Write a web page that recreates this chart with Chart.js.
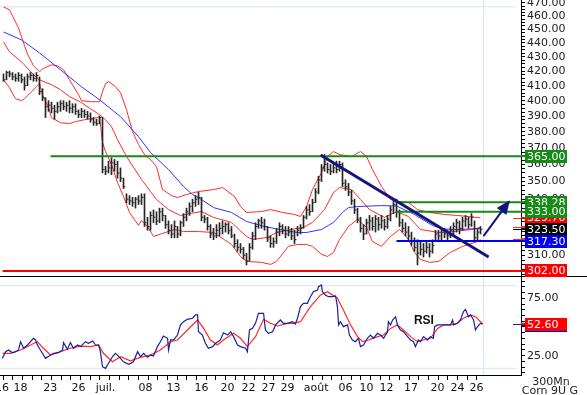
<!DOCTYPE html>
<html>
<head>
<meta charset="utf-8">
<script src="https://cdn.jsdelivr.net/npm/chart.js@4.4.0/dist/chart.umd.min.js"></script>
<style>
  html, body { margin: 0; padding: 0; background: #fff; }
</style>
</head>
<body>
<canvas id="myChart" width="587" height="395"></canvas>
<script>
// 300 min bars, Corn 9U, one slot per bar
const highs = [
  418,420,420,419,418,419,418,416,418,419,
  418,419,416,408,402,400,399,397,399,400,
  400,399,400,398,398,394,395,394,393,392,
  389,388,390,389,359,362,364,363,362,358,
  352,343,342,341,341,342,343,343,330,333,
  334,333,335,335,331,328,326,328,325,328,
  332,335,338,340,342,344,341,331,330,326,
  324,326,327,328,327,327,325,321,318,316,
  314,311,316,322,327,329,330,329,325,320,
  319,324,327,326,325,325,324,323,325,326,
  331,336,337,340,346,353,360,366,361,360,
  361,362,362,361,351,349,345,340,335,330,
  326,329,331,330,331,330,331,329,331,336,
  339,340,334,329,327,325,322,319,318,317,
  316,317,316,318,323,323,324,324,323,325,
  327,329,328,330,331,330,332,328,324,325
];
const lows = [
  413,414,416,414,413,413,412,407,410,414,
  413,413,404,400,389,393,392,388,392,393,
  394,393,392,392,391,389,389,389,388,386,
  384,384,385,355,354,355,354,356,352,350,
  346,338,337,336,335,337,337,325,323,323,
  327,326,327,328,324,321,319,319,319,320,
  325,328,331,333,336,337,328,327,323,319,
  318,319,320,321,322,321,319,314,312,311,
  308,305,307,313,318,324,324,323,317,314,
  314,316,320,321,319,320,318,316,320,321,
  324,329,331,333,338,343,350,356,355,354,
  355,355,356,347,345,342,337,332,327,322,
  318,321,323,323,322,323,324,323,324,328,
  332,330,325,322,320,318,315,312,305,310,
  309,311,309,311,317,318,318,319,318,319,
  320,322,321,323,325,324,325,318,318,321
];
const closes = [
  414,419,418,416,415,417,414,410,416,417,
  415,417,406,402,396,397,395,393,396,398,
  396,397,395,396,393,391,393,391,390,388,
  386,385,389,357,356,358,361,360,355,352,
  347,340,339,338,340,339,341,327,325,331,
  330,328,333,331,326,323,321,325,321,327,
  330,333,336,338,340,341,330,329,325,321,
  320,323,324,325,326,323,320,316,314,313,
  310,307,314,320,325,328,327,325,319,316,
  317,322,325,323,321,322,320,318,323,324,
  330,334,333,338,344,351,358,360,357,356,
  358,357,360,349,347,344,339,334,329,324,
  321,327,328,325,329,326,328,325,329,334,
  337,333,327,324,322,320,317,314,311,313,
  312,314,312,315,321,320,322,321,320,323,
  325,327,324,328,329,326,330,319,322,323.5
];

// indicators read at [slot, value]
const upperBand = [[0,467],[2,464.6],[3,460],[5,451],[7,438],[8,432],[10,423.7],[12,419.5],[13,421.5],[16,424.4],[18,423.7],[20,420.9],[22,414],[25,404],[26,400],[29,399.3],[32,399.3],[33,406],[34,411.4],[35,412.7],[37,410],[39,405.3],[41,394.1],[43,380.1],[45,372.1],[47,366],[49,362.9],[51,358.8],[53,345.4],[56,342],[58,340.9],[61,342.6],[65,344.3],[70,345.4],[73,346.6],[77,341.5],[79,335.9],[81,332.6],[86,333.1],[89,334.2],[93,332.6],[97,331.5],[99,330.4],[101,335.9],[103,345.4],[106,355.3],[108,364.8],[110,367.8],[112,366],[116,364.8],[119,367.8],[121,364.8],[123,357],[126,347.2],[129,339.8],[131,338.7],[135,338.1],[138,334.2],[142,332.6],[147,331.5],[151,331],[159,329.7]];
const middleBand = [[0,440.8],[2,433.6],[6,426.5],[10,417.5],[12,414],[16,410.7],[19,407.3],[22,402.7],[26,398.7],[29,394.7],[32,390.9],[34,387.6],[36,383.2],[38,375.1],[41,364.8],[46,351.2],[49,344.3],[51,339.8],[55,334.2],[59,330.9],[62,332],[66,333.1],[70,329.9],[76,327.2],[81,319.7],[83,318.1],[88,319.2],[91,321.8],[96,323.4],[100,324.5],[103,327.2],[107,334.2],[110,343.7],[112,346.6],[116,345.4],[119,339.8],[122,334.2],[127,329.9],[131,333.1],[135,330.4],[139,323.4],[145,321.8],[150,322.3],[156,323.4],[159,324.5]];
const lowerBand = [[0,414],[2,408.6],[4,401.3],[6,400],[7,401.3],[9,405.3],[11,409.3],[12,411.4],[13,404],[15,395.4],[16,388.9],[19,385.7],[22,385.1],[24,386.4],[27,387.6],[31,388.9],[32,389.6],[33,373.3],[34,367.8],[36,360],[38,349.5],[40,341.5],[42,332.6],[45,325.6],[46,328.2],[48,325],[50,319.7],[53,321.3],[57,323.4],[60,322.3],[65,322.3],[70,321.8],[76,315.5],[79,309.3],[81,306.8],[86,306.3],[89,305.3],[91,306.8],[95,314.5],[98,315.5],[101,315.5],[103,314.5],[106,310.4],[108,309.3],[110,311.4],[112,318.1],[115,325],[118,328.8],[121,324.5],[123,317],[126,314.5],[129,319.7],[132,323.4],[135,318.1],[137,311.4],[139,307.8],[142,306.3],[145,306.8],[149,311.4],[153,314.5],[158,317],[159,318.1]];
const blueMa = [[0,448],[6,442.2],[12,432.8],[19,420.9],[26,409.3],[32,400.6],[39,389.6],[45,376.9],[49,367.2],[55,357],[60,347.2],[63,342.6],[66,339.8],[70,335.3],[76,332.6],[81,327.7],[87,325],[92,323.4],[98,321.8],[101,321.8],[106,323.4],[110,327.2],[113,332.6],[115,335.3],[118,335.9],[126,336.4],[131,336.2],[137,331.5],[143,325.5],[147,323.6],[151,323.4],[159,323.9]];

const rsi = [[-0.4,22.6],[0.7,28.5],[1.7,30],[3,27.6],[4,28.5],[5,30],[5.7,37.2],[6.7,31.5],[8,34.3],[9,37.2],[10,40.2],[10.7,38.7],[11.3,34.3],[12.3,30],[14,22.7],[15.7,25.6],[16.7,27.1],[18.3,27.6],[19.7,30],[20,36.4],[21.3,30.6],[22.3,36.4],[23.3,31.5],[24.7,34.3],[25.7,32.9],[27.3,37.2],[28.3,35.8],[29.7,37.8],[30.7,34.3],[31.7,34.3],[32.3,28.5],[33,15.4],[34,14],[35,18.4],[36.3,24.1],[37.3,27.1],[38.3,24.7],[40,19.7],[41.7,17.5],[43.3,19.7],[44.7,28.5],[45.7,24.1],[46.7,27.1],[48,23.6],[49,25.6],[50,24.7],[51.3,32.9],[52.3,37.2],[53.3,42.2],[54.7,40.2],[55,30],[55.7,38.7],[56.7,38.7],[58,43],[59,51.8],[60,54.6],[61.3,56.7],[63,57.6],[64,60.5],[64.7,60.5],[65,45.9],[66.3,43],[67.3,35.8],[68.3,31.5],[69.7,32.9],[70.7,35.8],[72.3,38.7],[73.3,45],[74.7,43],[75.7,45.9],[76.7,41.6],[78,34.3],[79,32.9],[80.7,31.5],[81.3,28.5],[82,47.4],[83,48.8],[84,53.2],[85,61.9],[86.7,61.9],[87.3,47.4],[88.3,44.5],[89.7,45.9],[90.7,51.8],[92.3,56.1],[93.3,53.2],[94.7,53.2],[96.3,54.6],[97.3,52.6],[98,57.6],[99,67.7],[100,70.6],[101.3,70.6],[102.3,76.4],[103.3,80.7],[104.7,82.2],[105,85.1],[106,86.6],[106.3,80.7],[107.3,77.9],[108.3,76.4],[109.7,76.4],[110.7,77],[111.3,67.7],[111.7,51.8],[112.3,54.6],[113.3,50.3],[114.7,51.8],[115.3,43],[116.3,38.7],[117.3,37.2],[118.3,40.2],[119,32.9],[120,34.3],[121.3,40.2],[122.3,43],[123.3,40.2],[124.7,44.5],[125.7,43],[126.7,40.2],[128,45.9],[128.3,54.6],[129,51.8],[129.7,56.1],[130.7,59],[131.3,51.8],[132.3,47.4],[133.3,45.9],[134.7,41.6],[135.7,38.7],[136.7,37.2],[137.3,32.9],[138.3,38.7],[139,37.2],[140,41.6],[141.3,38.7],[142.3,41.6],[143.3,40.2],[143.7,50.3],[144.7,51.8],[146.7,51.8],[149,51.8],[149.7,56.1],[150,51.8],[151.3,53.2],[152.3,56.1],[153.3,63.3],[154,65.4],[155,59],[155.7,60.5],[156.7,56.1],[157.3,47.4],[158,50.3],[159,53.2],[159.7,52.6]];
const rsiMa = [[-0.3,27.1],[2.3,27.1],[5.7,30],[9,34.3],[11.3,37.2],[13.3,31.5],[15.7,25.6],[19,28.5],[22.3,31.5],[25.7,33.4],[29,32.9],[31.7,34.3],[33.3,27.1],[36.3,19.7],[39,24.1],[42.3,20.6],[45.7,23.6],[49,25.6],[52.3,30],[55.7,37.2],[58,38.7],[61.3,47.4],[64.7,56.1],[66.7,48.8],[69,38.7],[71.3,34.3],[73.3,38.7],[76.7,44.5],[79,40.2],[81.3,32.9],[84,41.6],[86.7,56.7],[89,53.2],[91.3,50.9],[94.7,53.2],[96.3,53.2],[99,54.6],[102.3,67.7],[105.7,77.9],[108,80.7],[111.3,75],[113.3,64.8],[115.7,51.8],[118,41.6],[119.7,37.2],[121.7,38.7],[124.7,41.6],[126.7,43],[129,48.8],[131.3,51.8],[133.3,47.4],[135.7,41.6],[138,37.2],[140,38.7],[142.3,40.2],[144.7,48.8],[146.7,51.8],[149,51.8],[151.3,53.2],[153.3,57.6],[155.7,60.5],[157.3,59],[159,54.6],[159.7,52.6]];

// date labels and the slot they sit on
const dateLabels = ['16','18','23','26','juil.','08','13','16','20','22','27','29','août','06','10','12','17','20','24','26'];
const dateAt = [-0.5,5.7,15.6,25,34,47.3,56.7,66,74.7,81.7,88.3,94.7,104.2,114,121,127.7,135.8,144.7,151.3,157.7];

// horizontal levels
const levelValues = [365, 338.28, 333, 317.3, 302];
const levelFrom = [15.7, 131, 131, 131, -0.3];
const levelColors = ['#168a16', '#168a16', '#168a16', '#0000f0', '#ff0000'];

const trendLine = [[105.7, 365.7], [161.7, 309]];
const arrowLine = [[160, 319.9], [168.4, 338.5]];
const rsiGuides = [86, 14];
const priceGuide = 467;
const nowAt = 159.7;

const xMin = -1.1667, xMax = 172.5;
const yMin = 299.5, yMax = 472.3;
const rMin = 8.2, rMax = 94.4;

const RED = '#ff2a2a', BLUE = '#3333ff', NAVY = '#14147e';
const font = { family: 'DejaVu Sans', size: 11 };
const last = a => { const v = a[a.length - 1]; return Array.isArray(v) ? v[1] : v; };

function curve(label, pts, color, width, axis, order) {
  return {
    type: 'line', label: label,
    data: pts.map(p => ({ x: p[0], y: p[1] })),
    borderColor: color, borderWidth: width, pointRadius: 0, pointHoverRadius: 0, fill: false,
    yAxisID: axis, order: order
  };
}

const datasets = [
  {
    type: 'bar', label: 'hl',
    data: highs.map((h, i) => ({ x: i, y: [lows[i], h] })),
    backgroundColor: '#262626', barThickness: 1, grouped: false,
    yAxisID: 'y', order: 5
  },
  {
    type: 'line', label: 'close',
    data: closes.map((c, i) => ({ x: i, y: c })),
    showLine: false, pointStyle: 'dash', pointRadius: 2, pointHoverRadius: 2,
    pointBorderColor: '#262626', pointBorderWidth: 1,
    yAxisID: 'y', order: 5
  },
  curve('upper', upperBand, RED, 1, 'y', 7),
  curve('middle', middleBand, RED, 1, 'y', 7),
  curve('lower', lowerBand, RED, 1, 'y', 7),
  curve('ma', blueMa, BLUE, 1, 'y', 6),
  curve('guide', [[xMin, priceGuide], [170.7, priceGuide]], '#d6e6ee', 1, 'y', 9),
  curve('trend', trendLine, NAVY, 3, 'y', 2),
  curve('arrow', arrowLine, NAVY, 2, 'y', 1),
  curve('rsi', rsi, '#1e1e9a', 1.2, 'yr', 3),
  curve('rsima', rsiMa, RED, 1.2, 'yr', 4)
];
levelValues.forEach((v, i) => {
  datasets.push(curve('lvl' + i, [[levelFrom[i], v], [xMax, v]], levelColors[i], 2, 'y', 4));
});
rsiGuides.forEach((v, i) => {
  datasets.push(curve('rg' + i, [[xMin, v], [170.7, v]], '#d6e6ee', 1, 'yr', 9));
});

const deco = {
  id: 'deco',
  beforeDatasetsDraw(chart) {
    const { ctx, chartArea: a, scales: { x } } = chart;
    const px = Math.round(x.getPixelForValue(nowAt)) + 0.5;
    ctx.save();
    ctx.strokeStyle = '#d6e6ee';
    ctx.lineWidth = 1;
    ctx.beginPath();
    ctx.moveTo(px, a.top);
    ctx.lineTo(px, a.bottom);
    ctx.stroke();
    ctx.restore();
  },
  afterDatasetsDraw(chart) {
    const idx = chart.data.datasets.findIndex(d => d.label === 'arrow');
    const pts = chart.getDatasetMeta(idx).data;
    const p0 = pts[0], p1 = pts[1];
    const ang = Math.atan2(p1.y - p0.y, p1.x - p0.x);
    const { ctx } = chart;
    ctx.save();
    ctx.translate(p1.x, p1.y);
    ctx.rotate(ang);
    ctx.fillStyle = NAVY;
    ctx.beginPath();
    ctx.moveTo(2, 0);
    ctx.lineTo(-12, -6);
    ctx.lineTo(-12, 6);
    ctx.closePath();
    ctx.fill();
    ctx.restore();
  },
  afterDraw(chart) {
    const { ctx, chartArea: a, scales: { x, y, yr } } = chart;
    ctx.save();

    // panel separator
    const sy = Math.round(y.bottom) + 0.5;
    ctx.strokeStyle = '#000';
    ctx.lineWidth = 1;
    ctx.beginPath();
    ctx.moveTo(0, sy);
    ctx.lineTo(chart.width, sy);
    ctx.stroke();

    // little marks left of the axis for the last values
    const marks = [
      [y, last(upperBand), RED], [y, last(middleBand), RED], [y, last(lowerBand), RED],
      [y, last(blueMa), BLUE], [y, last(closes), '#000'],
      [yr, last(rsiMa), RED], [yr, last(rsi), '#1e1e9a']
    ];
    marks.forEach(m => {
      const py = Math.round(m[0].getPixelForValue(m[1])) + 0.5;
      ctx.strokeStyle = m[2];
      ctx.beginPath();
      ctx.moveTo(a.right - 8, py);
      ctx.lineTo(a.right, py);
      ctx.stroke();
    });

    // value tags on the axis
    ctx.font = '11px "DejaVu Sans"';
    ctx.textBaseline = 'middle';
    const tag = (scale, v, color, shift) => {
      const py = scale.getPixelForValue(v) + (shift || 0);
      const top = Math.round(py - 6.5);
      ctx.fillStyle = color;
      ctx.fillRect(a.right, Math.round(py) - 1, 4, 2);
      ctx.fillRect(a.right + 4, top, 42, 13);
      ctx.fillStyle = '#fff';
      ctx.fillText(v.toFixed(2), a.right + 6, top + 7);
    };
    tag(y, last(middleBand), RED);
    tag(y, last(lowerBand), RED);
    tag(y, last(blueMa), '#0000f0');
    tag(y, last(upperBand), '#ff0000');
    tag(y, last(closes), '#000');
    levelValues.forEach((v, i) => tag(y, v, levelColors[i]));
    tag(yr, last(rsi), '#0000d0', 1);
    tag(yr, last(rsiMa), '#ff0000');

    // RSI caption
    ctx.fillStyle = '#111';
    ctx.textBaseline = 'alphabetic';
    ctx.font = 'bold 12px "Liberation Sans"';
    ctx.fillText('RSI', x.getPixelForValue(136.8), yr.getPixelForValue(52.4));

    // period / contract
    ctx.font = '11px "DejaVu Sans"';
    ctx.fillStyle = '#222';
    ctx.textAlign = 'center';
    ctx.fillText('300Mn', 551, 385);
    ctx.fillText('Corn 9U G', 550, 394);
    ctx.restore();
  }
};

const priceTicks = [];
for (let v = 300; v <= 472; v += 2.5) priceTicks.push(v);
const rsiTicks = [];
for (let v = 10; v <= 90; v += 5) rsiTicks.push(v);

const myChart = new Chart(document.getElementById('myChart'), {
  type: 'line',
  data: { datasets: datasets },
  options: {
    responsive: false,
    animation: false,
    devicePixelRatio: 1,
    events: [],
    layout: { padding: 0, autoPadding: false },
    plugins: { legend: { display: false }, tooltip: { enabled: false } },
    elements: { line: { tension: 0 } },
    scales: {
      x: {
        type: 'linear', min: xMin, max: xMax, bounds: 'data', offset: false,
        afterBuildTicks: s => {
          const t = [];
          for (let v = -0.1; v < nowAt; v += 3.223) t.push({ value: v });
          dateAt.forEach((v, i) => t.push({ value: v, name: dateLabels[i] }));
          s.ticks = t.sort((p, q) => p.value - q.value);
        },
        afterFit: s => { s.height = 20; s.paddingLeft = 0; s.paddingRight = 0; },
        grid: {
          drawOnChartArea: false, offset: false, tickLength: 5, color: '#000',
          tickColor: c => (c.tick && c.tick.name) ? 'rgba(0,0,0,0)' : '#000'
        },
        border: { color: '#000' },
        ticks: {
          autoSkip: false, maxRotation: 0, padding: 2, font: font, color: '#111',
          callback: (v, i, t) => t[i].name || ''
        }
      },
      y: {
        type: 'logarithmic', position: 'right', stack: 'panels', stackWeight: 276,
        min: yMin, max: yMax, bounds: 'data',
        afterBuildTicks: s => { s.ticks = priceTicks.map(v => ({ value: v })); },
        afterFit: s => { s.width = 66; s.paddingTop = 0; s.paddingBottom = 0; },
        grid: { drawOnChartArea: false, tickLength: 4, color: '#000' },
        border: { color: '#000' },
        ticks: {
          autoSkip: false, padding: 2, font: font, color: '#222',
          callback: v => (v % 10 === 0 && v >= 310) ? v.toFixed(2) : ''
        }
      },
      yr: {
        type: 'linear', position: 'right', stack: 'panels', stackWeight: 99,
        min: rMin, max: rMax, bounds: 'data',
        afterBuildTicks: s => { s.ticks = rsiTicks.map(v => ({ value: v })); },
        afterFit: s => { s.width = 66; s.paddingTop = 0; s.paddingBottom = 0; },
        grid: { drawOnChartArea: false, tickLength: 4, color: '#000' },
        border: { color: '#000' },
        ticks: {
          autoSkip: false, padding: 2, font: font, color: '#222',
          callback: v => (v === 25 || v === 75) ? v.toFixed(2) : ''
        }
      }
    }
  },
  plugins: [deco]
});
</script>
</body>
</html>
